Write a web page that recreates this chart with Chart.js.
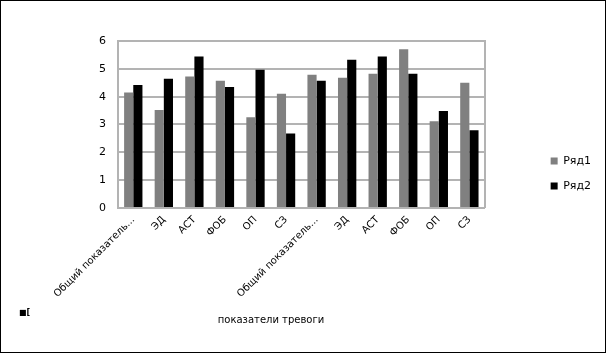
<!DOCTYPE html>
<html>
<head>
<meta charset="utf-8">
<script src="https://cdn.jsdelivr.net/npm/chart.js@4/dist/chart.umd.min.js"></script>
<style>
  html, body { margin: 0; padding: 0; background: #fff; }
  #wrap { width: 606px; height: 353px; border: 1px solid #000; box-sizing: border-box; position: relative; }
</style>
</head>
<body>
<div id="wrap"><canvas id="bar-chart"></canvas></div>
<script>
var labels = ["Общий показатель...", "ЭД", "АСТ", "ФОБ", "ОП", "СЗ",
              "Общий показатель...", "ЭД", "АСТ", "ФОБ", "ОП", "СЗ"];
var row1 = [4.15, 3.52, 4.72, 4.57, 3.26, 4.10, 4.79, 4.68, 4.82, 5.70, 3.12, 4.50];
var row2 = [4.42, 4.64, 5.44, 4.35, 4.97, 2.68, 4.57, 5.33, 5.44, 4.82, 3.48, 2.79];
var yTicks = [0, 1, 2, 3, 4, 5, 6];
var xTitle = "показатели тревоги";
var yTitle = "■[";

var gridColor = '#b3b3b3';
var font = "'DejaVu Sans', Verdana, sans-serif";

// extra texts placed like in the source picture
var textPlugin = {
    id: 'texts',
    afterDraw: function (chart) {
        var ctx = chart.ctx;
        ctx.save();
        ctx.fillStyle = '#000';
        ctx.textBaseline = 'middle';
        ctx.font = '10px ' + font;
        ctx.textAlign = 'center';
        ctx.fillText(xTitle, 270, 319);
        ctx.font = 'bold 8px ' + font;
        ctx.textAlign = 'left';
        ctx.fillText(yTitle, 18, 312);
        ctx.restore();
    }
};

new Chart(document.getElementById("bar-chart"), {
    type: 'bar',
    data: {
        labels: labels,
        datasets: [{
            label: "Ряд1",
            backgroundColor: "#808080",
            data: row1
        }, {
            label: "Ряд2",
            backgroundColor: "#000000",
            data: row2
        }]
    },
    options: {
        responsive: true,
        maintainAspectRatio: false,
        animation: { duration: 0 },
        layout: { padding: { left: 86, right: 4, top: 40, bottom: 46 } },
        datasets: {
            bar: { categoryPercentage: 0.6, barPercentage: 1.0 }
        },
        scales: {
            x: {
                grid: { display: false, drawTicks: false },
                border: { display: true, color: gridColor, width: 2 },
                ticks: {
                    color: '#000',
                    font: { family: font, size: 10 },
                    maxRotation: 45,
                    minRotation: 45,
                    padding: 6,
                    autoSkip: false
                }
            },
            y: {
                min: 0,
                max: 6,
                afterBuildTicks: function (s) {
                    s.ticks = yTicks.map(function (v) { return { value: v }; });
                },
                grid: { color: gridColor, lineWidth: 2, drawTicks: false },
                border: { display: true, color: gridColor, width: 2 },
                ticks: {
                    color: '#000',
                    font: { family: font, size: 11 },
                    padding: 12
                }
            },
            y2: {
                position: 'right',
                grid: { display: false, drawTicks: false },
                border: { display: true, color: gridColor, width: 2 },
                ticks: { display: false },
                afterFit: function (s) { s.width = 52; }
            }
        },
        plugins: {
            legend: {
                position: 'right',
                labels: {
                    color: '#000',
                    boxWidth: 7,
                    boxHeight: 7,
                    padding: 14,
                    font: { family: font, size: 11 }
                }
            },
            tooltip: { enabled: false }
        }
    },
    plugins: [textPlugin]
});
</script>
</body>
</html>
